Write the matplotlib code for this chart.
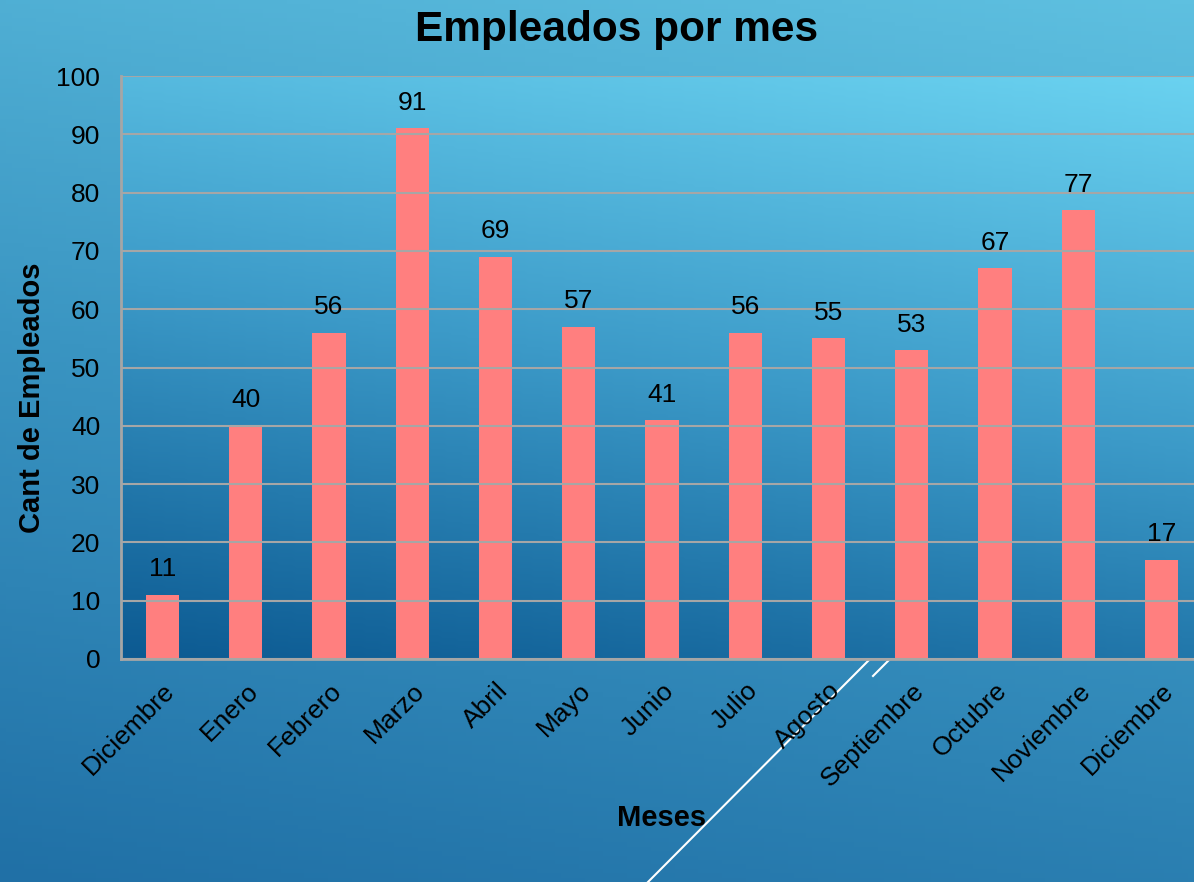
import numpy as np
import matplotlib.pyplot as plt
from matplotlib.colors import LinearSegmentedColormap
from matplotlib.lines import Line2D

plt.rcParams['font.family'] = ['Liberation Sans', 'DejaVu Sans']

meses = ["Diciembre", "Enero", "Febrero", "Marzo", "Abril", "Mayo", "Junio",
         "Julio", "Agosto", "Septiembre", "Octubre", "Noviembre", "Diciembre"]
empleados = [11, 40, 56, 91, 69, 57, 41, 56, 55, 53, 67, 77, 17]
yticks = [0, 10, 20, 30, 40, 50, 60, 70, 80, 90, 100]

fig = plt.figure(figsize=(11.94, 8.82), dpi=100)

# slide background gradient
bg = fig.add_axes([0, 0, 1, 1], zorder=-10)
bg.set_axis_off()
yy, xx = np.mgrid[0:1:200j, 0:1:200j]
t = 0.8 * yy + 0.2 * xx  # 0 at bottom-left, 1 at top-right
cmap_bg = LinearSegmentedColormap.from_list("bg", ["#2070a6", "#3a95c2", "#5ec0e0"])
bg.imshow(t, cmap=cmap_bg, origin="lower", extent=[0, 1, 0, 1], aspect="auto")

# decorative lines
fig.add_artist(Line2D([648 / 1194, 870 / 1194], [0, (882 - 659) / 882],
                      color="white", lw=1.5, zorder=-5))
fig.add_artist(Line2D([873 / 1194, 890 / 1194], [(882 - 676) / 882, (882 - 659) / 882],
                      color="white", lw=1.5, zorder=-5))

ax = fig.add_axes([121 / 1194, (882 - 659) / 882, 1082 / 1194, 583 / 882])
x = np.arange(len(meses))
ax.set_xlim(-0.5, len(meses) - 0.5)
ax.set_ylim(0, 100)

# plot area gradient
cmap_pa = LinearSegmentedColormap.from_list("pa", ["#0c5a92", "#3c9ac8", "#6ad2f0"])
t2 = 0.85 * yy + 0.25 * xx
ax.imshow(t2, cmap=cmap_pa, origin="lower", extent=[-0.5, len(meses) - 0.5, 0, 100],
          aspect="auto", zorder=0, vmin=0, vmax=1.1)

ax.set_yticks(yticks)
ax.yaxis.grid(True, color="#a6a6a6", lw=1.5, zorder=1)
ax.set_axisbelow(False)
bars = ax.bar(x, empleados, width=0.4, color="#ff7f7f", zorder=2)
for xi, v in zip(x, empleados):
    ax.text(xi, v + 2.3, str(v), ha="center", va="bottom", fontsize=19, zorder=3)

ax.set_xticks(x)
ax.set_xticklabels(meses, rotation=45, ha="right", rotation_mode="anchor", fontsize=19)
ax.tick_params(axis="x", length=0, pad=14)
ax.tick_params(axis="y", length=0, pad=15, labelsize=19)
for s in ["top", "right"]:
    ax.spines[s].set_visible(False)
for s in ["left", "bottom"]:
    ax.spines[s].set_color("#a6a6a6")
    ax.spines[s].set_linewidth(2)

ax.set_ylabel("Cant de Empleados", fontsize=21, fontweight="bold")
ax.set_xlabel("Meses", fontsize=21, fontweight="bold")
ax.xaxis.set_label_coords((662 - 121) / 1082, -(818 - 659) / 583)
ax.yaxis.get_label().set_va("center")
ax.xaxis.get_label().set_va("center")
ax.yaxis.set_label_coords(-(121 - 32) / 1082, (659 - 398) / 583)

fig.text(617 / 1194, 1 - 30 / 882, "Empleados por mes", ha="center", va="center",
         fontsize=30.5, fontweight="bold")

fig.savefig("out.png", dpi=100)
